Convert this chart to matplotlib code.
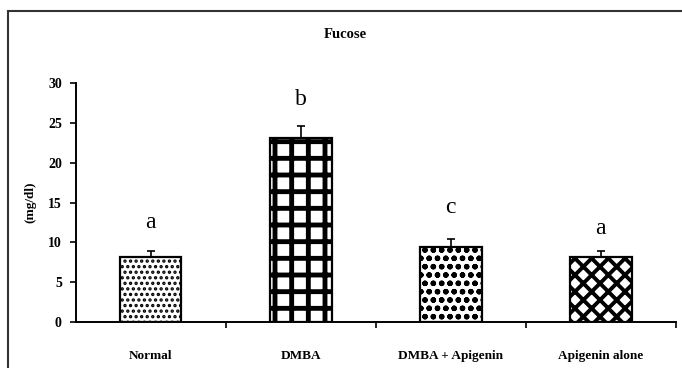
import matplotlib
matplotlib.use("Agg")
import matplotlib.pyplot as plt
from matplotlib.patches import Rectangle

# data
groups = ["Normal", "DMBA", "DMBA + Apigenin", "Apigenin alone"]
means = [8.15, 23.1, 9.45, 8.15]
errors = [0.8, 1.5, 0.95, 0.8]
letters = ["a", "b", "c", "a"]
letter_y = [12.5, 27.9, 14.4, 11.8]
yticks = [0, 5, 10, 15, 20, 25, 30]
hatches = ["...", "+", "oo", "xx"]
hatch_widths = [1.6, 3.5, 1.6, 2.8]

plt.rcParams["font.family"] = ["Liberation Serif", "DejaVu Serif"]
plt.rcParams["hatch.linewidth"] = 1.6

fig = plt.figure(figsize=(6.82, 3.68), dpi=100)
ax = fig.add_axes([0.111, 0.125, 0.88, 0.649])

x = list(range(len(groups)))
for xi, m, e, h, hw in zip(x, means, errors, hatches, hatch_widths):
    bars = ax.bar(xi, m, width=0.41, color="white", edgecolor="black",
                  linewidth=1.6, hatch=h, zorder=2)
    for b in bars:
        if hasattr(b, "set_hatch_linewidth"):
            b.set_hatch_linewidth(hw)
    ax.errorbar(xi, m, yerr=[[0], [e]], fmt="none", ecolor="black",
                elinewidth=1.2, capsize=3, capthick=1.2, zorder=3)

for xi, lt, ly in zip(x, letters, letter_y):
    ax.text(xi, ly, lt, ha="center", va="center", fontsize=17)

ax.set_xlim(-0.5, 3.5)
ax.set_ylim(0, 30)
ax.set_yticks(yticks)
ax.set_yticklabels([str(t) for t in yticks], fontsize=10, fontweight="bold")
ax.set_xticks(x)
ax.set_xticklabels(groups, fontsize=9.5, fontweight="bold")
ax.tick_params(axis="x", which="major", length=0, pad=20)
ax.set_xticks([0.5, 1.5, 2.5, 3.5], minor=True)
ax.tick_params(axis="x", which="minor", length=4, width=1.2, direction="out")
ax.tick_params(axis="y", length=4, width=1.2, direction="out", pad=6)

for s in ["top", "right"]:
    ax.spines[s].set_visible(False)
for s in ["left", "bottom"]:
    ax.spines[s].set_linewidth(1.4)

ax.set_ylabel("(mg/dl)", fontsize=9.5, fontweight="bold", labelpad=8)
fig.text(0.506, 0.905, "Fucose", ha="center", va="center",
         fontsize=10.5, fontweight="bold")

# outer frame around the chart
fig.patches.append(Rectangle((0.011, -0.1), 1.2, 0.1 + 0.97, transform=fig.transFigure,
                             fill=False, edgecolor="#333333", linewidth=1.5))

fig.savefig("out.png", dpi=100)
